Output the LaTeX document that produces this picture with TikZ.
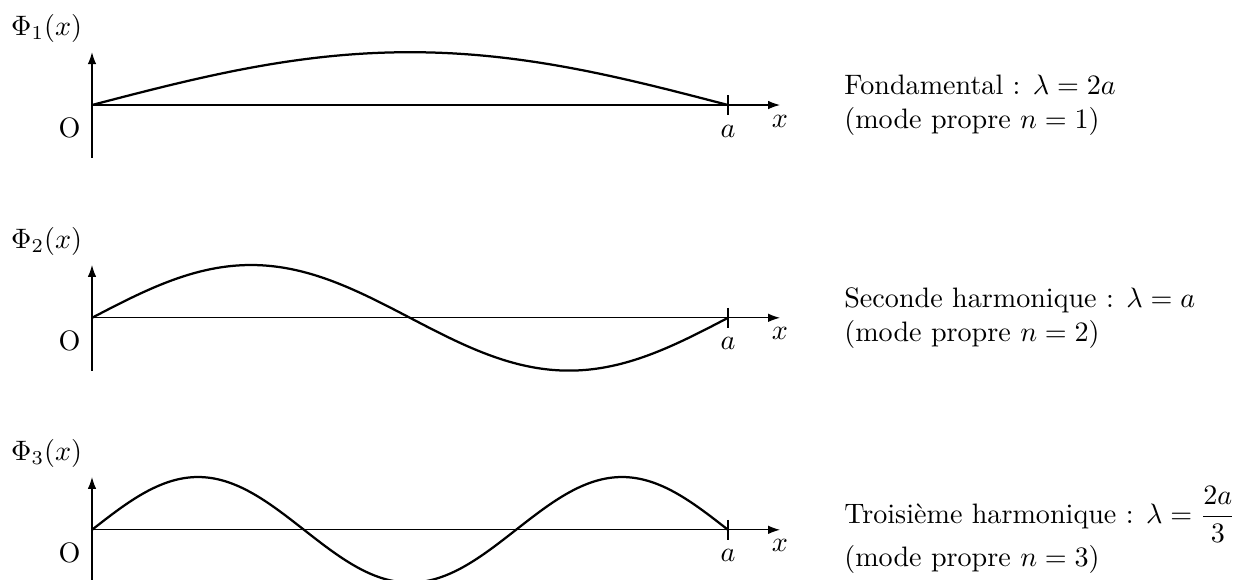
\documentclass[tikz,border=0pt]{standalone}
\usepackage{amsmath}
\usetikzlibrary{arrows.meta}

\begin{document}
\begin{tikzpicture}[
    axis/.style={-{Latex[length=4.2pt,width=3pt]}},
    wave/.style={thick, smooth, samples=120},
    lbl/.style={anchor=west, align=left},
  ]
  \useasboundingbox (-1.15,1.3125) rectangle (14.45,-5.925);

  % --- One panel per mode ------------------------------------------------
  \foreach \n/\yo/\txt in {%
      1/0/{Fondamental : $\lambda = 2a$},
      2/-2.66/{Seconde harmonique : $\lambda = a$},
      3/-5.31/{Troisième harmonique : $\lambda = \dfrac{2a}{3}$}} {
    \coordinate (o\n) at (0,\yo);
    \coordinate (end\n) at (7.95,\yo);
    % axes
    \draw[axis] ([yshift=-6.6mm]o\n) -- ([yshift=6.6mm]o\n)
      node[above left] (phi\n) {$\Phi_\n(x)$};
    \draw[axis] (o\n) -- ([xshift=8.6cm]o\n) node[below] (x\n) {$x$};
    \node (orig\n) at ([shift={(-0.28,-0.29)}]o\n) {O};
    % tick at a
    \draw ([yshift=1.25mm]end\n) -- ([yshift=-1.25mm]end\n)
      node[below] (a\n) {$a$};
    % mode shape
    \draw[wave, domain=0:7.95] plot (\x, {\yo + 0.66*sin(\n*180*\x/7.95)});
    \node[lbl] (mode\n) at (9.28,\yo) {\txt\\(mode propre $n = \n$)};
  }
\end{tikzpicture}
\end{document}
